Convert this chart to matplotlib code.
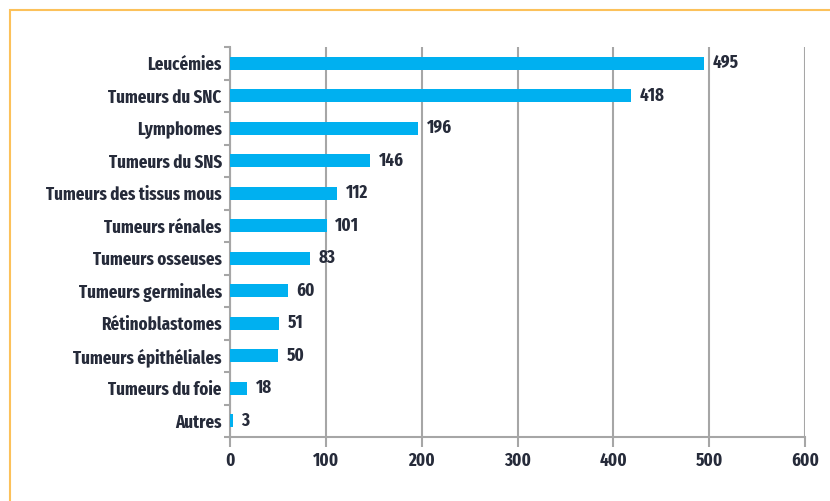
import matplotlib
matplotlib.use("Agg")
import matplotlib.pyplot as plt
import numpy as np
from matplotlib.patches import Rectangle

categories = ["Leucémies", "Tumeurs du SNC", "Lymphomes", "Tumeurs du SNS",
              "Tumeurs des tissus mous", "Tumeurs rénales", "Tumeurs osseuses",
              "Tumeurs germinales", "Rétinoblastomes", "Tumeurs épithéliales",
              "Tumeurs du foie", "Autres"]
values = [495, 418, 196, 146, 112, 101, 83, 60, 51, 50, 18, 3]
xticks = [0, 100, 200, 300, 400, 500, 600]

plt.rcParams['font.family'] = ['Fira Sans Extra Condensed', 'Roboto Condensed', 'DejaVu Sans']
plt.rcParams['font.weight'] = 'bold'
text_col = "#262b3a"
grid_col = "#a6a6a6"
bar_col = "#00b0f0"
fs = 13.2

fig = plt.figure(figsize=(8.3, 5.01), dpi=100)
# orange frame around the chart
fig.patches.append(Rectangle((10 / 830, -0.05), 1.2, 1 - 10 / 501 + 0.05,
                             transform=fig.transFigure, fill=False,
                             edgecolor="#fcc15a", linewidth=1.5))

ax = fig.add_axes([230 / 830, 1 - 437 / 501, 575 / 830, 390 / 501])
y = np.arange(len(categories))
ax.barh(y, values, height=0.4, color=bar_col, zorder=3)
for yi, v in zip(y, values):
    ax.text(v + 9, yi, str(v), va="center", ha="left", fontsize=fs,
            color=text_col, fontweight="bold")

ax.set_xlim(0, 600)
ax.set_ylim(len(categories) - 0.5, -0.5)
ax.set_xticks(xticks)
ax.set_yticks(y)
ax.set_yticklabels(categories)
ax.set_yticks(np.arange(-0.5, len(categories)), minor=True)
ax.tick_params(axis="y", which="major", length=0, pad=6, labelsize=fs,
               labelcolor=text_col)
ax.tick_params(axis="y", which="minor", length=4, width=1.5, color=grid_col)
ax.tick_params(axis="x", length=7, width=1.5, color=grid_col, labelsize=fs,
               labelcolor=text_col, pad=4)
ax.xaxis.grid(True, color=grid_col, linewidth=1.5, zorder=0)
for s in ["top", "right"]:
    ax.spines[s].set_visible(False)
for s in ["left", "bottom"]:
    ax.spines[s].set_color(grid_col)
    ax.spines[s].set_linewidth(1.5)

fig.savefig("out.png", dpi=100)
